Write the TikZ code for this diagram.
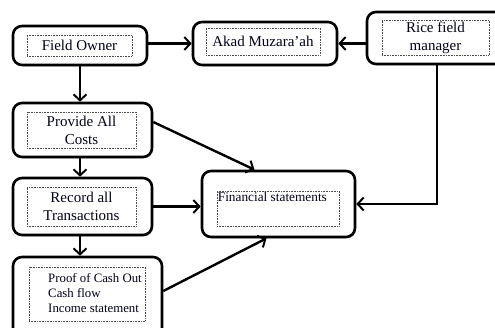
\documentclass[tikz,border=0pt]{standalone}
\usepackage{fontspec}
\setmainfont{Liberation Serif}
\usetikzlibrary{arrows.meta,shadows}
\begin{document}
\begin{tikzpicture}[x=1pt,y=-1pt,
  outerbox/.style={draw=black, line width=2.6pt, rounded corners=9pt, fill=white,
    drop shadow={opacity=0.25, shadow xshift=1.2pt, shadow yshift=-1.5pt},
    inner sep=0pt},
  innerbox/.style={draw=black!70, densely dotted, line width=0.6pt, inner sep=0pt,
    font=\fontsize{15}{18}\selectfont, align=center, text=black!90!blue},
  conn/.style={line width=2.4pt, -{Straight Barb[length=6pt,width=13pt,line width=2pt]}},
  plain/.style={line width=2.4pt}
]
\useasboundingbox (0,0) rectangle (495,327);
\clip (0,0) rectangle (495,327);
\fill[white] (0,0) rectangle (495,327);

% outer boxes
\node[outerbox, minimum width=134pt, minimum height=39pt] (fo) at (80,45.5) {};
\node[outerbox, minimum width=144pt, minimum height=43pt] (akad) at (265,43.5) {};
\node[outerbox, minimum width=140pt, minimum height=52pt] (rice) at (437,38) {};
\node[outerbox, minimum width=139pt, minimum height=54pt] (prov) at (82.5,130) {};
\node[outerbox, minimum width=139pt, minimum height=57pt] (rec) at (82.5,206.5) {};
\node[outerbox, minimum width=149pt, minimum height=80pt] (proof) at (87.5,297) {};
\node[outerbox, minimum width=153pt, minimum height=66pt] (fin) at (278.5,204) {};

% inner dotted text boxes
\node[innerbox, minimum width=105pt, minimum height=21pt] (foi) at (79.5,45.5) {Field Owner};
\node[innerbox, minimum width=114pt, minimum height=27pt] (akadi) at (263,41.5) {Akad Muzara’ah};
\node[innerbox, minimum width=107pt, minimum height=35pt] (ricei) at (435.5,37.5) {Rice field\\manager};
\node[innerbox, minimum width=109pt, minimum height=36pt] (provi) at (81.5,130) {Provide All\\Costs};
\node[innerbox, minimum width=109pt, minimum height=39pt] (reci) at (81.5,206.5) {Record all\\Transactions};
\node[innerbox, minimum width=116pt, minimum height=54pt, font=\fontsize{12.8}{15}\selectfont] (proofi) at (87,294)
  {\begin{tabular}{@{\hspace{16pt}}l@{}}Proof of Cash Out\\Cash flow\\Income statement\end{tabular}};
\node[innerbox, minimum width=122pt, minimum height=35pt] (fini) at (278,208.5) {};
\node[anchor=north west, inner sep=1pt, font=\fontsize{13.3}{15}\selectfont, text=black!90!blue] (fint)
  at (fini.north west) {Financial statements};

% connectors
\draw[conn] ([yshift=2pt]fo.east) -- ([yshift=2pt]fo.east -| akad.west);
\draw[conn] (rice.west |- akad.east) -- (akad.east);
\draw[conn] (fo.south) -- (fo.south |- prov.north);
\draw[conn] (fo.south |- prov.south) -- (fo.south |- rec.north);
\draw[conn] (fo.south |- rec.south) -- (fo.south |- proof.north);
\draw[conn] ([yshift=8pt]prov.east) -- ([xshift=-24pt]fin.north);
\draw[conn] (rec.east) -- (rec.east -| fin.west);
\draw[conn] ([yshift=6pt]proof.east) -- ([xshift=-12pt]fin.south);
\draw[conn] (rice.south) |- (fin.east);
\end{tikzpicture}
\end{document}
